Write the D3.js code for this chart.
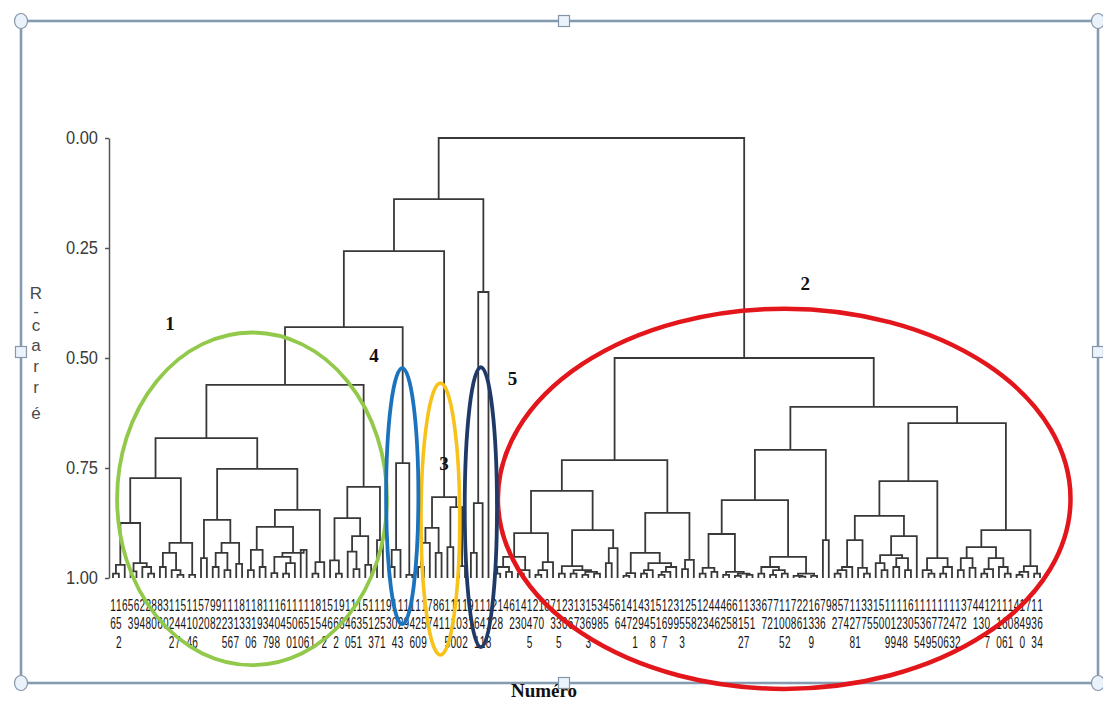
<!DOCTYPE html>
<html><head><meta charset="utf-8">
<script src="https://cdn.jsdelivr.net/npm/d3@7"></script>
<style>body{margin:0;background:#fff}svg{display:block}</style>
</head><body>
<svg id="c" width="1103" height="702"></svg>
<script>
// ---------------- DATA ----------------
const yTicks = [0, 0.25, 0.5, 0.75, 1];
const yTitle = "R-carré";
const xTitle = "Numéro";
const groupNames = ["1", "2", "3", "4", "5"];

// leaf labels in dendrogram order (digits are stacked vertically)
const leafLabels = [
 "16","152","6","53","69","24","28","80","86","30",
 "122","147","54","114","106","52","70","98","92","125",
 "136","117","83","130","116","89","137","149","108","64",
 "150","101","160","156","111","85","142","56","162","96",
 "140","165","131","55","113","127","151","93","104","123",
 "19","146","120","159","77","84","61","115","110","100",
 "132","91","161","141","118","22","18","4","62","13",
 "40","145","27","10","8","73","135","20","36","17",
 "33","163","59","38","45","5","66","14","47","121",
 "49","34","158","51","167","29","39","153","25","58",
 "12","23","44","46","42","65","68","112","157","31",
 "3","67","72","71","105","102","78","26","21","139",
 "63","76","9","82","57","74","128","171","37","35",
 "15","50","109","119","124","138","60","155","134","169",
 "175","170","126","143","172","32","7","41","43","107",
 "2","110","166","101","48","140","79","133","164"
];

// dendrogram: internal node = [R-squared at merge, left, right]; leaf = leaf index
const tree =
[0.0,
  [0.139,
    [0.257,
      [0.43,
        [0.561,
          [0.682,
            [0.773,
              [0.875,
                [0.97, [0.99,0,1], 2],
                [0.966, [0.985,3,4], [0.975,5,[0.99,6,7]]]
              ],
              [0.92,
                [0.943, [0.975,8,9], [0.982,10,[0.993,11,12]]],
                [0.993,13,14]
              ]
            ],
            [0.752,
              [0.868,
                [0.955,15,16],
                [0.92, [0.943,[0.975,17,18],[0.982,19,20]], [0.968,21,22]]
              ],
              [0.845,
                [0.884,
                  [0.936,[0.982,23,24],[0.975,25,26]],
                  [0.943,[0.952,[0.989,27,28],[0.966,[0.99,29,30],31]],[0.936,32,33]]
                ],
                [0.964,[0.99,34,35],36]
              ]
            ]
          ],
          [0.793,
            [0.864,
              [0.96,37,[0.99,38,39]],
              [0.905,[0.94,40,[0.98,41,42]],[0.97,43,44]]
            ],
            [0.914,45,46]
          ]
        ],
        [0.739, [0.936,[0.975,47,48],49], [0.993,50,51]]
      ],
      [0.816,
        [0.886, [0.92,[0.975,52,53],54], [0.943,55,56]],
        [0.839, [0.93,57,58], [0.973,59,60]]
      ]
    ],
    [0.35, [0.83,[0.943,61,62],63], 64]
  ],
  [0.5,
    [0.732,
      [0.802,
        [0.898,
          [0.952, [0.975,[0.99,65,66],[0.986,67,68]], [0.982,[0.99,69,70],71]],
          [0.964, [0.982,[0.993,72,73],74], 75]
        ],
        [0.891,
          [0.973, [0.99,76,77], [0.982,[0.99,78,79],[0.986,[0.993,80,81],[0.99,82,83]]]],
          [0.932, [0.966,84,85], 86]
        ]
      ],
      [0.852,
        [0.943,
          [0.989,[0.995,87,88],89],
          [0.966,[0.982,[0.99,90,91],92],[0.975,[0.986,[0.993,93,94],95],96]]
        ],
        [0.959,[0.98,97,98],99]
      ]
    ],
    [0.611,
      [0.709,
        [0.823,
          [0.9,
            [0.977,[0.99,100,101],[0.986,102,103]],
            [0.986,[0.993,104,105],[0.99,[0.995,106,107],[0.993,108,109]]]
          ],
          [0.952,
            [0.975,[0.99,110,111],[0.982,[0.993,112,113],[0.99,114,115]]],
            [0.99,[0.995,116,[0.997,117,118]],[0.995,119,120]]
          ]
        ],
        [0.914,121,122]
      ],
      [0.648,
        [0.78,
          [0.859,
            [0.914, [0.975,[0.982,[0.99,123,124],125],126], [0.977,127,[0.99,128,129]]],
            [0.905, [0.948,[0.966,130,[0.982,131,132]],[0.955,[0.975,133,134],[0.982,135,136]]], 137]
          ],
          [0.955, [0.982,138,[0.99,139,140]], [0.975,[0.99,141,142],143]]
        ],
        [0.891,
          [0.93,
            [0.955,[0.982,144,145],[0.977,146,147]],
            [0.955,[0.98,[0.99,148,149],150],[0.975,151,[0.99,152,153]]]
          ],
          [0.973,[0.986,[0.993,154,155],156],[0.99,157,158]]
        ]
      ]
    ]
  ]
];

// ---------------- LAYOUT / STYLE ----------------
const svg = d3.select("#c");
const N = leafLabels.length;
const x = d3.scaleLinear().domain([0.5, N - 0.5]).range([113, 1040]);
const y = d3.scaleLinear().domain([0, 1]).range([138, 578]);

// selection frame (behind)
const frame = {x0: 21, y0: 21, x1: 1098, y1: 683};
svg.append("rect").attr("x", frame.x0).attr("y", frame.y0)
  .attr("width", frame.x1 - frame.x0).attr("height", frame.y1 - frame.y0)
  .attr("fill", "none").attr("stroke", "#c9dcec").attr("stroke-width", 3.5);
svg.append("rect").attr("x", frame.x0).attr("y", frame.y0)
  .attr("width", frame.x1 - frame.x0).attr("height", frame.y1 - frame.y0)
  .attr("fill", "none").attr("stroke", "#66778a").attr("stroke-width", 1.3);

const root = d3.hierarchy(tree, d => Array.isArray(d) ? d.slice(1) : null);
d3.cluster().size([N, 1]).separation(() => 1)(root);
const hOf = n => Array.isArray(n.data) ? n.data[0] : 1;

// dendrogram links
svg.append("g").attr("fill", "none").attr("stroke", "#383838").attr("stroke-width", 1.8)
  .selectAll("path").data(root.descendants().filter(n => n.children))
  .join("path")
  .attr("d", n => {
    const [a, b] = n.children;
    return `M${x(a.x)},${y(hOf(a))}V${y(hOf(n))}H${x(b.x)}V${y(hOf(b))}`;
  });

// y axis
const ax = svg.append("g").attr("transform", "translate(109,0)")
  .call(d3.axisLeft(y).tickValues(yTicks).tickFormat(d3.format(".2f"))
    .tickSize(4).tickSizeOuter(0).tickPadding(7));
ax.select(".domain").attr("stroke", "#555").attr("stroke-width", 1.5);
ax.selectAll(".tick line").attr("stroke", "#555").attr("stroke-width", 1.5);
ax.selectAll(".tick text").attr("font-family", "Liberation Sans, Arial, sans-serif")
  .attr("font-size", 18).attr("fill", "#3a3a3a")
  .attr("textLength", 32).attr("lengthAdjust", "spacingAndGlyphs");

// y title, stacked letters
const titleY = [299, 317, 331, 351, 372, 393, 419];
svg.append("g").selectAll("text").data(Array.from(yTitle)).join("text")
  .attr("x", 36).attr("y", (d, i) => titleY[i])
  .attr("text-anchor", "middle").attr("font-family", "Liberation Sans, Arial, sans-serif")
  .attr("font-size", 17).attr("fill", "#4a4a4a").text(d => d);

// leaf labels, digits stacked in rows
const rowY = [611, 629, 648];
const lg = svg.append("g").attr("font-family", "Liberation Sans, Arial, sans-serif")
  .attr("font-size", 17).attr("fill", "#151515").attr("text-anchor", "middle");
root.leaves().forEach(lf => {
  const lab = leafLabels[lf.data];
  Array.from(lab).forEach((ch, k) => {
    lg.append("text").attr("x", x(lf.x)).attr("y", rowY[k])
      .attr("textLength", 5.6).attr("lengthAdjust", "spacingAndGlyphs").text(ch);
  });
});

// x title
svg.append("text").attr("x", 544).attr("y", 697).attr("text-anchor", "middle")
  .attr("font-family", "Liberation Serif, Times New Roman, serif").attr("font-weight", "bold")
  .attr("font-size", 19).attr("fill", "#111").text(xTitle);

// group ellipses (in data units: leaf position, R-squared)
const outlines = [
  {cx: 24.2, cy: 0.820, rx: 23.0, ry: 0.378, color: "#92c94a", w: 3.8},
  {cx: 114.9, cy: 0.820, rx: 48.8, ry: 0.432, color: "#e3161c", w: 4.5},
  {cx: 56.3, cy: 0.866, rx: 3.3, ry: 0.309, color: "#f7c21a", w: 3.6},
  {cx: 49.8, cy: 0.814, rx: 2.75, ry: 0.291, color: "#1c73bd", w: 3.8},
  {cx: 63.2, cy: 0.839, rx: 2.75, ry: 0.318, color: "#1f3a68", w: 3.8}
];
const sx = x(1.5) - x(0.5), sy = y(1) - y(0);
svg.append("g").attr("fill", "none").selectAll("ellipse").data(outlines).join("ellipse")
  .attr("cx", d => x(d.cx)).attr("cy", d => y(d.cy))
  .attr("rx", d => d.rx * sx).attr("ry", d => d.ry * sy)
  .attr("stroke", d => d.color).attr("stroke-width", d => d.w);

// group numbers
const groupPos = [[10.2, 0.436], [118.5, 0.345], [56.9, 0.755], [45.0, 0.509], [68.6, 0.561]];
svg.append("g").attr("font-family", "Liberation Serif, Times New Roman, serif")
  .attr("font-weight", "bold").attr("font-size", 19).attr("fill", "#111")
  .attr("text-anchor", "middle")
  .selectAll("text").data(groupNames).join("text")
  .attr("x", (d, i) => x(groupPos[i][0])).attr("y", (d, i) => y(groupPos[i][1])).text(d => d);

// frame handles
const hg = svg.append("g").attr("fill", "#eaf3fb").attr("stroke", "#8796a6").attr("stroke-width", 1.2);
[[frame.x0, frame.y0], [frame.x1, frame.y0], [frame.x0, frame.y1], [frame.x1, frame.y1]].forEach(([cx, cy]) =>
  hg.append("ellipse").attr("cx", cx).attr("cy", cy).attr("rx", 6.5).attr("ry", 7.5));
[[564, frame.y0], [frame.x0, 352], [frame.x1, 352], [564, frame.y1]].forEach(([cx, cy]) =>
  hg.append("rect").attr("x", cx - 5.5).attr("y", cy - 5.5).attr("width", 11).attr("height", 11));
</script>
</body></html>
